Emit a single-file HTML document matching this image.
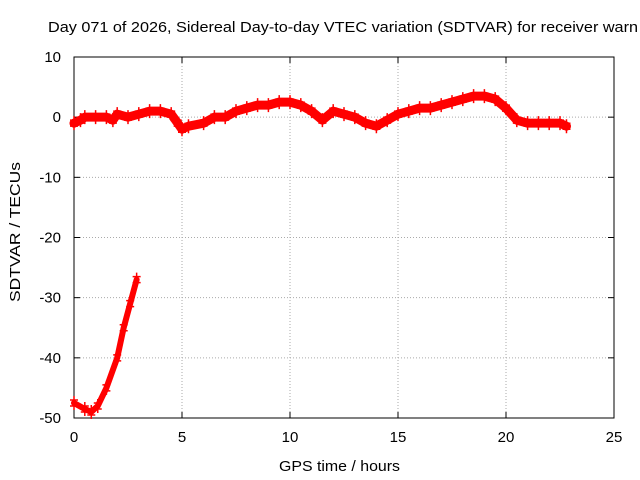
<!DOCTYPE html>
<html><head><meta charset="utf-8"><style>
html,body{margin:0;padding:0;background:#fff;}
svg{display:block;font-family:"Liberation Sans",sans-serif;}
</style></head><body>
<svg id="chart" width="640" height="480" viewBox="0 0 640 480">
<rect x="0" y="0" width="640" height="480" fill="#fff"/>
<text x="48" y="32" font-size="15" textLength="590" lengthAdjust="spacingAndGlyphs" fill="#000">Day 071 of 2026, Sidereal Day-to-day VTEC variation (SDTVAR) for receiver warn</text>
<g id="grid"></g>
<g id="axes"></g>
<g id="series"></g>
<text x="279" y="471" font-size="15" textLength="121" lengthAdjust="spacingAndGlyphs">GPS time / hours</text>
<text transform="translate(20,302) rotate(-90)" font-size="15" textLength="140" lengthAdjust="spacingAndGlyphs">SDTVAR / TECUs</text>
</svg>
<script>
const xTicks=[0,5,10,15,20,25];
const yTicks=[10,0,-10,-20,-30,-40,-50];
const mainT=[0,0.3,0.5,1,1.5,1.8,2,2.5,3,3.5,4,4.5,4.8,5,5.3,6,6.5,7,7.5,8,8.5,9,9.5,10,10.5,11,11.5,12,12.5,13,13.5,14,14.5,15,15.5,16,16.5,17,17.5,18,18.5,19,19.5,20,20.5,21,21.5,22,22.5,22.8];
const mainV=[-1,-0.5,0,0,0,-0.5,0.5,0,0.5,1,1,0.5,-1,-2,-1.5,-1,0,0,1,1.5,2,2,2.5,2.5,2,1,-0.5,1,0.5,0,-1,-1.5,-0.5,0.5,1,1.5,1.5,2,2.5,3,3.5,3.5,3,1.5,-0.5,-1,-1,-1,-1,-1.5];
const lowT=[0,0.5,0.8,1.1,1.5,2,2.3,2.6,2.9];
const lowV=[-47.5,-48.5,-49,-48,-45,-40,-35,-31,-27];
const X0=74,X1=614,Y0=57,Y1=418;
const xs=v=>X0+(v-0)/25*(X1-X0);
const ys=v=>Y0+(10-v)/60*(Y1-Y0);
const NS="http://www.w3.org/2000/svg";
function mk(tag,attrs,parent){const e=document.createElementNS(NS,tag);for(const k in attrs)e.setAttribute(k,attrs[k]);parent.appendChild(e);return e;}
const grid=document.getElementById('grid'),axes=document.getElementById('axes'),series=document.getElementById('series');
xTicks.forEach(t=>{
  if(t>0&&t<25){const l=mk('line',{x1:xs(t),x2:xs(t),y1:Y0,y2:Y1,stroke:'#aaa','stroke-dasharray':'1,2'},grid);
  }
  mk('line',{x1:xs(t),x2:xs(t),y1:Y1,y2:Y1-6,stroke:'#000'},axes);
  mk('line',{x1:xs(t),x2:xs(t),y1:Y0,y2:Y0+6,stroke:'#000'},axes);
  const tx=mk('text',{x:xs(t),y:Y1+24,'font-size':15,'text-anchor':'middle'},axes);tx.textContent=t;
  
});
yTicks.forEach(t=>{
  if(t<10&&t>-50){const l=mk('line',{x1:X0,x2:X1,y1:ys(t),y2:ys(t),stroke:'#aaa','stroke-dasharray':'1,2'},grid);
  }
  mk('line',{x1:X0,x2:X0+6,y1:ys(t),y2:ys(t),stroke:'#000'},axes);
  mk('line',{x1:X1,x2:X1-6,y1:ys(t),y2:ys(t),stroke:'#000'},axes);
  const tx=mk('text',{x:X0-13,y:ys(t)+5,'font-size':15,'text-anchor':'end'},axes);tx.textContent=t;
  
});
const fr=mk('rect',{x:X0,y:Y0,width:X1-X0,height:Y1-Y0,fill:'none',stroke:'#000'},axes);

function drawSeries(T,V,w,name){
  const pts=T.map((t,i)=>xs(t)+','+ys(V[i])).join(' ');
  const pl=mk('polyline',{points:pts,fill:'none',stroke:'#f00','stroke-width':w,'stroke-linejoin':'round','stroke-linecap':'round'},series);
  
  T.forEach((t,i)=>{const x=xs(t),y=ys(V[i]);
    const p=mk('path',{d:`M${x-4},${y-3}h8M${x},${y-7}v8M${x-4},${y+3}h8M${x},${y-1}v8`,stroke:'#f00','stroke-width':1.5},series);
    });
}
drawSeries(mainT,mainV,9,'main-series');
drawSeries(lowT,lowV,6,'low-series');
</script>
</body></html>
